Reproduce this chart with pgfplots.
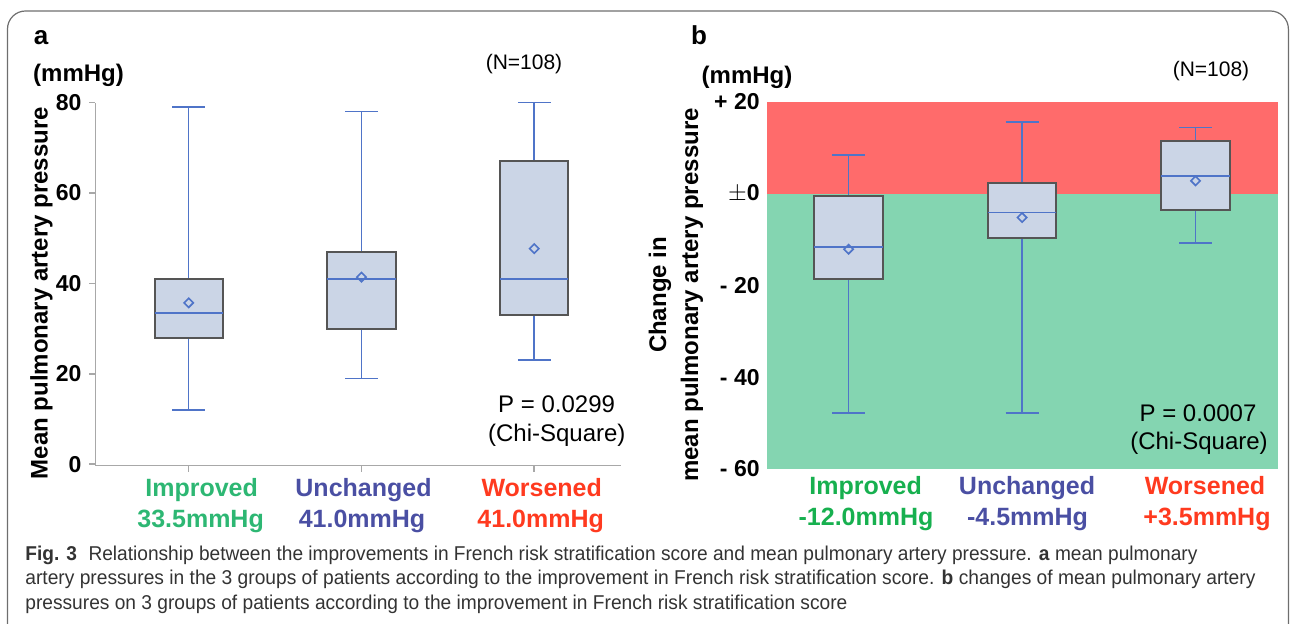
\documentclass[border=0pt]{standalone}
\usepackage{fontspec}
\usepackage{graphicx}
\usepackage{pgfplots}
\pgfplotsset{compat=1.18}
\usepgfplotslibrary{statistics}
\setmainfont{Liberation Sans}
\definecolor{boxfill}{HTML}{CBD5E6}
\definecolor{boxedge}{HTML}{555555}
\definecolor{whisk}{HTML}{4F74C8}
\definecolor{bgred}{HTML}{FF6B6B}
\definecolor{bggreen}{HTML}{84D5B1}
\definecolor{gimp}{HTML}{2DB773}
\definecolor{gimpb}{HTML}{17B04F}
\definecolor{cunch}{HTML}{4A4FA3}
\definecolor{cwor}{HTML}{FF3A1F}
\definecolor{axgray}{HTML}{A8A8A8}
\definecolor{capgray}{HTML}{333333}
\definecolor{framegray}{HTML}{6E6E6E}

\pgfdeclareplotmark{rdiamond}{%
  \pgfpathmoveto{\pgfqpoint{0pt}{\pgfplotmarksize}}%
  \pgfpathlineto{\pgfqpoint{\pgfplotmarksize}{0pt}}%
  \pgfpathlineto{\pgfqpoint{0pt}{-\pgfplotmarksize}}%
  \pgfpathlineto{\pgfqpoint{-\pgfplotmarksize}{0pt}}%
  \pgfpathclose\pgfusepathqstroke}

\pgfplotsset{
 mybox/.style={
  boxplot/draw direction=y,
  boxplot/box extend=0.395,
  boxplot/whisker extend=0.19,
  boxplot/every box/.style={draw=boxedge, fill=boxfill, line width=1pt},
  boxplot/every whisker/.style={draw=whisk, line width=0.8pt},
  boxplot/every median/.style={draw=whisk, line width=0.9pt},
  boxplot/every average/.style={/tikz/mark=rdiamond, /tikz/mark size=2.3pt,
     /tikz/draw=whisk, /tikz/line width=0.8pt, /tikz/solid},
 },
 bx/.style={whisk, solid, line width=0.8pt},
}
\newcommand{\lblfont}{\fontsize{12.5pt}{15pt}\selectfont\bfseries}
\newcommand{\txtfont}{\fontsize{12pt}{14pt}\selectfont}
\newcommand{\tickfont}{\fontsize{11.5pt}{13pt}\selectfont\bfseries}

\begin{document}
\begin{tikzpicture}
\useasboundingbox (0pt,0pt) rectangle (645pt,-312pt);
% frame
\draw[framegray, line width=0.6pt, rounded corners=9pt]
  (3.75pt,-330pt) -- (3.75pt,-5.5pt) -- (644.2pt,-5.5pt) -- (644.2pt,-330pt);

% ---------------- panel a ----------------
\begin{axis}[
  at={(47.7pt,-232.8pt)}, anchor=south west,
  scale only axis, width=262.6pt, height=181.5pt,
  xmin=-0.54, xmax=2.5, ymin=-0.31, ymax=80,
  axis x line*=bottom, axis y line*=left,
  axis line style={draw=axgray, line width=0.8pt},
  xtick={0,1,2}, xticklabels={},
  ytick={0,20,40,60,80},
  tick style={draw=axgray, line width=0.8pt},
  tick align=outside, major tick length=3pt,
  /pgf/number format/assume math mode=true,
  yticklabel style={font=\tickfont, xshift=-0.5pt},
  clip=false,
  mybox,
]
\addplot[bx, boxplot prepared={draw position=0, lower whisker=12, lower quartile=28,
  median=33.5, upper quartile=41, upper whisker=79, average=35.7}] coordinates {};
\addplot[bx, boxplot prepared={draw position=1, lower whisker=19, lower quartile=30,
  median=41, upper quartile=47, upper whisker=78, average=41.4}] coordinates {};
\addplot[bx, boxplot prepared={draw position=2, lower whisker=23, lower quartile=33,
  median=41, upper quartile=67, upper whisker=80, average=47.7}] coordinates {};
\end{axis}

% ---------------- panel b ----------------
\begin{axis}[
  at={(383.25pt,-234.5pt)}, anchor=south west,
  scale only axis, width=255.55pt, height=183.55pt,
  xmin=-0.473, xmax=2.473, ymin=-60, ymax=20,
  axis lines=none,
  xtick=\empty, ytick=\empty,
  clip=false,
  mybox,
]
\addplot[draw=none, fill=bggreen] coordinates {(-0.473,-60) (2.473,-60) (2.473,0) (-0.473,0)} -- cycle;
\addplot[draw=none, fill=bgred] coordinates {(-0.473,0) (2.473,0) (2.473,20) (-0.473,20)} -- cycle;
\addplot[bx, boxplot prepared={draw position=0, lower whisker=-47.8, lower quartile=-18.6,
  median=-11.6, upper quartile=-0.6, upper whisker=8.4, average=-12.1}] coordinates {};
\addplot[bx, boxplot prepared={draw position=1, lower whisker=-47.8, lower quartile=-9.6,
  median=-4.1, upper quartile=2.4, upper whisker=15.6, average=-5.2}] coordinates {};
\addplot[bx, boxplot prepared={draw position=2, lower whisker=-10.7, lower quartile=-3.6,
  median=3.9, upper quartile=11.4, upper whisker=14.4, average=2.8}] coordinates {};
\end{axis}
% y tick labels of panel b
\begin{scope}[x=0.5pt, y=-0.5pt]
\foreach \yy/\tt in {101.9/+ 20, 193.7/$\pm$0, 285.5/- 20, 377.3/- 40, 469.0/- 60}
  \node[anchor=east, inner sep=0pt, font=\tickfont] at (760,\yy) {\tt};

% panel letters and units
\node[anchor=base, inner sep=0pt, font=\fontsize{13pt}{15pt}\selectfont\bfseries] at (41,45) {a};
\node[anchor=base, inner sep=0pt, font=\fontsize{13pt}{15pt}\selectfont\bfseries] at (699,45) {b};
\node[inner sep=0pt, font=\fontsize{12pt}{14pt}\selectfont\bfseries] at (78.5,75.5) {(mmHg)};
\node[inner sep=0pt, font=\fontsize{12pt}{14pt}\selectfont\bfseries] at (747,77) {(mmHg)};
\node[inner sep=0pt, font=\fontsize{10.5pt}{12pt}\selectfont] at (524,64) {(N=108)};
\node[inner sep=0pt, font=\fontsize{10.5pt}{12pt}\selectfont] at (1211,71) {(N=108)};

% y labels
\node[rotate=90, inner sep=0pt, font=\fontsize{12pt}{14pt}\selectfont\bfseries] at (41.5,293) {Mean pulmonary artery pressure};
\node[rotate=90, inner sep=0pt, align=center, font=\fontsize{12pt}{16pt}\selectfont\bfseries] at (676,295) {Change in\\mean pulmonary artery pressure};

% P values
\node[anchor=base, inner sep=0pt, font=\txtfont] at (556.6,413) {P = 0.0299};
\node[anchor=base, inner sep=0pt, font=\txtfont] at (556.8,442) {(Chi-Square)};
\node[anchor=base, inner sep=0pt, font=\txtfont] at (1198,422) {P = 0.0007};
\node[anchor=base, inner sep=0pt, font=\txtfont] at (1199,450) {(Chi-Square)};

% category labels panel a
\node[anchor=base, inner sep=0pt, font=\lblfont, text=gimp] at (201.6,496.5) {Improved};
\node[anchor=base, inner sep=0pt, font=\lblfont, text=gimp] at (200.6,527.5) {33.5mmHg};
\node[anchor=base, inner sep=0pt, font=\lblfont, text=cunch] at (363.5,496.5) {Unchanged};
\node[anchor=base, inner sep=0pt, font=\lblfont, text=cunch] at (362,527.5) {41.0mmHg};
\node[anchor=base, inner sep=0pt, font=\lblfont, text=cwor] at (541.7,496.5) {Worsened};
\node[anchor=base, inner sep=0pt, font=\lblfont, text=cwor] at (540.7,527.5) {41.0mmHg};
% category labels panel b
\node[anchor=base, inner sep=0pt, font=\lblfont, text=gimpb] at (865.6,495) {Improved};
\node[anchor=base, inner sep=0pt, font=\lblfont, text=gimpb] at (866,526) {-12.0mmHg};
\node[anchor=base, inner sep=0pt, font=\lblfont, text=cunch] at (1027,495) {Unchanged};
\node[anchor=base, inner sep=0pt, font=\lblfont, text=cunch] at (1027.5,526) {-4.5mmHg};
\node[anchor=base, inner sep=0pt, font=\lblfont, text=cwor] at (1205,495) {Worsened};
\node[anchor=base, inner sep=0pt, font=\lblfont, text=cwor] at (1207,526) {+3.5mmHg};

% caption
\node[anchor=base west, inner sep=0pt, text=capgray, font=\fontsize{10pt}{12pt}\selectfont] at (25,560)
  {\resizebox{586pt}{\height}{\textbf{Fig. 3}\hspace{0.6em}Relationship between the improvements in French risk stratification score and mean pulmonary artery pressure. \textbf{a} mean pulmonary}};
\node[anchor=base west, inner sep=0pt, text=capgray, font=\fontsize{10pt}{12pt}\selectfont] at (25,585)
  {\resizebox{615pt}{\height}{artery pressures in the 3 groups of patients according to the improvement in French risk stratification score. \textbf{b} changes of mean pulmonary artery}};
\node[anchor=base west, inner sep=0pt, text=capgray, font=\fontsize{10pt}{12pt}\selectfont] at (25,610)
  {\resizebox{411pt}{\height}{pressures on 3 groups of patients according to the improvement in French risk stratification score}};
\end{scope}
\end{tikzpicture}
\end{document}
